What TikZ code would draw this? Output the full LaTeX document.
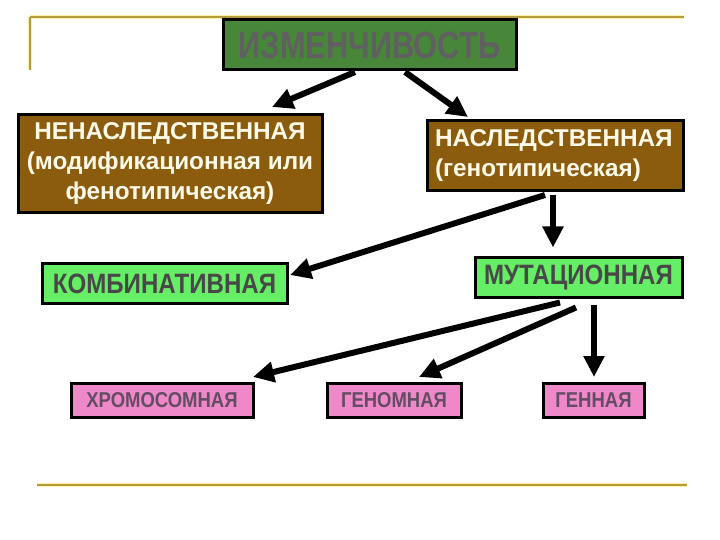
\documentclass[tikz,border=0pt]{standalone}
\usepackage{fontspec}
\setmainfont{Liberation Sans}
\newfontfamily\condfont{Liberation Sans}[FakeStretch=0.81]
\newfontfamily\condfontb{Liberation Sans}[FakeStretch=0.86]
\newfontfamily\condfontc{Liberation Sans}[FakeStretch=0.86]
\usetikzlibrary{arrows.meta}
\definecolor{topgreen}{RGB}{72,134,58}
\definecolor{brownbox}{RGB}{139,92,14}
\definecolor{lightgreen}{RGB}{102,238,102}
\definecolor{pinkbox}{RGB}{238,136,200}
\definecolor{graytext}{RGB}{96,96,96}
\definecolor{darkgraytext}{RGB}{72,72,72}
\definecolor{pinktext}{RGB}{100,76,100}
\definecolor{goldline}{RGB}{180,155,60}
\definecolor{glow}{RGB}{255,240,170}
\definecolor{cream}{RGB}{255,250,232}
\begin{document}
\begin{tikzpicture}[x=1pt,y=-1pt,
  box/.style={draw=black,line width=3pt,inner sep=0pt,outer sep=0pt},
  topbox/.style={box,fill=topgreen,text=graytext,
    font=\condfont\bfseries\fontsize{38}{38}\selectfont},
  brownnode/.style={box,fill=brownbox,text=cream,
    font=\bfseries\fontsize{24.3}{30}\selectfont},
  greenbox/.style={box,fill=lightgreen,text=darkgraytext,minimum height=40pt,
    font=\condfontb\bfseries\fontsize{28}{28}\selectfont},
  pinknode/.style={box,fill=pinkbox,text=pinktext,minimum height=34pt,
    font=\condfontc\bfseries\fontsize{21.5}{21.5}\selectfont},
  arr/.style={line width=6pt,-{Triangle[length=21pt,width=20pt]}},
  deco/.style={line width=2pt,draw=goldline},
  decoglow/.style={line width=4pt,draw=glow}]
\useasboundingbox (0,0) rectangle (720,540);
% decorative lines
\draw[decoglow] (30,17) -- (684,17);
\draw[decoglow] (30,17) -- (30,70);
\draw[decoglow] (37,485) -- (687,485);
\draw[deco] (30,17) -- (684,17);
\draw[deco] (30,17) -- (30,70);
\draw[deco] (37,485) -- (687,485);
% nodes
\node[topbox,minimum width=293pt,minimum height=50pt] (top) at (369.5,45) {ИЗМЕНЧИВОСТЬ};
\node[brownnode,minimum width=304pt,minimum height=98pt,align=center] (nen) at (170,164)
  {НЕНАСЛЕДСТВЕННАЯ\\(модификационная или\\фенотипическая)};
\node[brownnode,minimum width=256pt,minimum height=70pt,text width=240pt,inner xsep=8pt,align=left] (nas) at (555,156)
  {НАСЛЕДСТВЕННАЯ\\(генотипическая)};
\node[greenbox,minimum width=245pt] (kom) at (164.5,283.5) {КОМБИНАТИВНАЯ};
\node[greenbox,minimum width=207pt] (mut) at (578.5,277.5) {МУТАЦИОННАЯ};
\node[pinknode,minimum width=182pt] (hro) at (162,400) {ХРОМОСОМНАЯ};
\node[pinknode,minimum width=134pt] (gnm) at (394,400) {ГЕНОМНАЯ};
\node[pinknode,minimum width=101pt] (gen) at (593.5,400) {ГЕННАЯ};
% connectors
\draw[arr] ([xshift=-14.5pt,yshift=-2pt]top.south) -- ([xshift=102pt,yshift=8pt]nen.north);
\draw[arr] ([xshift=35.5pt,yshift=-2pt]top.south) -- ([xshift=-87pt,yshift=4pt]nas.north);
\draw[arr] ([xshift=-10pt,yshift=-4pt]nas.south) -- ([xshift=3pt,yshift=8.5pt]kom.east);
\draw[arr] ([xshift=-2pt,yshift=-4pt]nas.south) -- ([xshift=-25.5pt,yshift=10pt]mut.north);
\draw[arr] ([xshift=-18.5pt,yshift=-5pt]mut.south) -- ([xshift=91pt,yshift=6pt]hro.north);
\draw[arr] ([xshift=-2.5pt,yshift=-10pt]mut.south) -- ([xshift=25pt,yshift=6pt]gnm.north);
\draw[arr] ([xshift=15.5pt,yshift=-7pt]mut.south) -- ([xshift=0.5pt,yshift=6pt]gen.north);
\end{tikzpicture}
\end{document}
